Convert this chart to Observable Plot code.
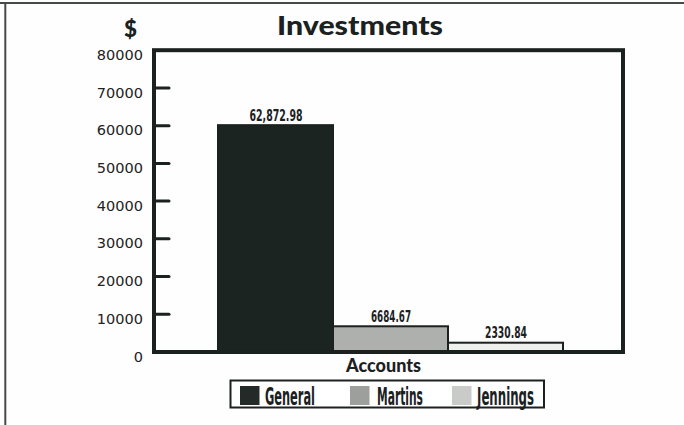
<!DOCTYPE html>
<html><head><meta charset="utf-8">
<script src="https://cdn.jsdelivr.net/npm/d3@7"></script>
<script src="https://cdn.jsdelivr.net/npm/@observablehq/plot@0.6"></script>
<style>
body{margin:0;background:#fff;}
#wrap{position:relative;width:684px;height:425px;overflow:hidden;background:#fefefe;}
#wrap svg{position:absolute;left:0;top:0;}
</style></head>
<body><div id="wrap"></div>
<script>
const accounts = ["General", "Martins", "Jennings"];
const barHeights = [60000, 6684.67, 2330.84];
const valueLabels = ["62,872.98", "6684.67", "2330.84"];
const yTicks = [0, 10000, 20000, 30000, 40000, 50000, 60000, 70000, 80000];
const barColors = ["#1c2421", "#adb0ad", "#eef0ee"];
const swatchColors = ["#232a27", "#9c9f9c", "#c9cbc9"];
const titleText = "Investments";
const yLabelText = "$";
const xLabelText = "Accounts";

const data = accounts.map((a, i) => ({account: a, value: barHeights[i], label: valueLabels[i]}));
const ink = "#1b211e";
const wrap = document.getElementById("wrap");

const tickShape = {draw(context, l) { context.moveTo(0, 0); context.lineTo(0, -l); }};

const chart = Plot.plot({
  width: 684,
  height: 425,
  marginLeft: 153.5,
  marginRight: 61.5,
  marginTop: 49.7,
  marginBottom: 73.5,
  style: {background: "transparent", color: ink, fontFamily: "'DejaVu Sans', sans-serif"},
  x: {domain: accounts, paddingInner: 0, paddingOuter: 0.527, align: 0.52, axis: null},
  y: {domain: [0, 80000], axis: null},
  color: {domain: accounts, range: barColors},
  marks: [
    Plot.barY(data, {x: "account", y: "value", fill: "account", stroke: ink, strokeWidth: 2}),
    Plot.text(data, {x: "account", y: "value", text: "label", lineAnchor: "bottom", dy: -5, fill: ink,
      fontFamily: "'DejaVu Sans', sans-serif", fontWeight: "bold", fontSize: 15}),
    Plot.axisY({ticks: yTicks, tickSize: 0, tickPadding: 11, dy: 5, tickFormat: d3.format("d"), fontSize: 14.5, label: null, fill: "#222"}),
    Plot.vector(yTicks.slice(1, -1), {y: d => d, frameAnchor: "left", rotate: 90, length: 15, anchor: "start", shape: tickShape, stroke: ink, strokeWidth: 3}),
    Plot.frame({stroke: ink, strokeWidth: 4})
  ]
});
wrap.appendChild(chart);

// condense the bar value labels to the widths seen in the reference
const labelWidths = [53, 40, 42];
chart.querySelectorAll('g[aria-label="text"] text').forEach((t, i) => {
  t.setAttribute("textLength", labelWidths[i]);
  t.setAttribute("lengthAdjust", "spacingAndGlyphs");
});

// overlay: page border, title, axis titles, legend
const ns = "http://www.w3.org/2000/svg";
const ov = document.createElementNS(ns, "svg");
ov.setAttribute("width", 684); ov.setAttribute("height", 425);
wrap.appendChild(ov);
function el(tag, attrs, text) {
  const e = document.createElementNS(ns, tag);
  for (const k in attrs) e.setAttribute(k, attrs[k]);
  if (text != null) e.textContent = text;
  ov.appendChild(e); return e;
}
el("line", {x1: 0, x2: 684, y1: 3, y2: 3, stroke: "#454a48", "stroke-width": 2});
el("line", {x1: 5.3, x2: 5.3, y1: 2, y2: 425, stroke: "#454a48", "stroke-width": 2});
const heavy = "Lato, 'DejaVu Sans', sans-serif";
el("text", {x: 277, y: 35, "font-family": heavy, "font-weight": 900, "font-size": 26, fill: ink, textLength: 166, lengthAdjust: "spacingAndGlyphs"}, titleText);
el("text", {x: 124, y: 37, "font-family": heavy, "font-weight": 900, "font-size": 22, fill: ink, textLength: 13, lengthAdjust: "spacingAndGlyphs"}, yLabelText);
el("text", {x: 346, y: 371.5, "font-family": heavy, "font-weight": 900, "font-size": 18.5, fill: ink, textLength: 75, lengthAdjust: "spacingAndGlyphs"}, xLabelText);

// legend
el("rect", {x: 230.5, y: 380.5, width: 313.5, height: 27, fill: "#fff", stroke: ink, "stroke-width": 2});
const swX = [240, 350, 452];
const txX = [265, 377, 477];
const txW = [50, 46, 57];
accounts.forEach((a, i) => {
  el("rect", {x: swX[i], y: 386, width: 19.5, height: 19, fill: swatchColors[i]});
  el("text", {x: txX[i], y: 404.5, "font-family": "'DejaVu Sans', sans-serif", "font-weight": "bold", "font-size": 24, fill: ink, textLength: txW[i], lengthAdjust: "spacingAndGlyphs"}, a);
});
</script></body></html>
